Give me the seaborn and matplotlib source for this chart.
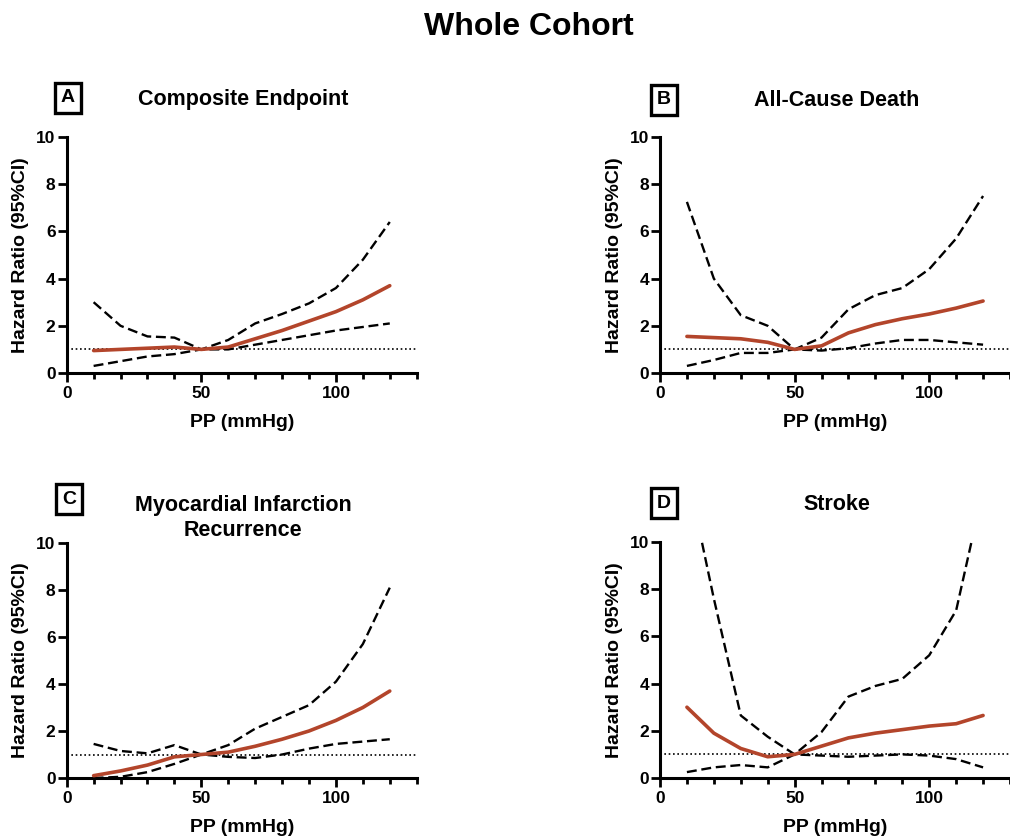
import numpy as np
import pandas as pd
import matplotlib
matplotlib.use("Agg")
import matplotlib.pyplot as plt
import seaborn as sns

# Pulse pressure grid (mmHg)
pp = [10, 20, 30, 40, 50, 60, 70, 80, 90, 100, 110, 120]

# Panel A: composite endpoint
a_hr    = [0.95, 1.00, 1.05, 1.10, 1.00, 1.10, 1.45, 1.80, 2.20, 2.60, 3.10, 3.70]
a_upper = [3.00, 2.00, 1.55, 1.50, 1.00, 1.40, 2.10, 2.50, 2.95, 3.60, 4.80, 6.40]
a_lower = [0.30, 0.50, 0.70, 0.80, 1.00, 1.00, 1.20, 1.40, 1.60, 1.80, 1.95, 2.10]

# Panel B: all-cause death
b_hr    = [1.55, 1.50, 1.45, 1.30, 1.00, 1.15, 1.70, 2.05, 2.30, 2.50, 2.75, 3.05]
b_upper = [7.25, 4.00, 2.45, 2.00, 1.00, 1.50, 2.70, 3.30, 3.60, 4.40, 5.70, 7.50]
b_lower = [0.30, 0.55, 0.85, 0.85, 1.00, 0.95, 1.05, 1.25, 1.40, 1.40, 1.30, 1.20]

# Panel C: myocardial infarction recurrence
c_hr    = [0.10, 0.30, 0.55, 0.90, 1.00, 1.10, 1.35, 1.65, 2.00, 2.45, 3.00, 3.70]
c_upper = [1.45, 1.15, 1.05, 1.40, 1.00, 1.40, 2.10, 2.60, 3.10, 4.10, 5.70, 8.10]
c_lower = [0.00, 0.05, 0.25, 0.60, 1.00, 0.90, 0.85, 1.00, 1.25, 1.45, 1.55, 1.65]

# Panel D: stroke
d_hr    = [3.00, 1.90, 1.25, 0.90, 1.00, 1.35, 1.70, 1.90, 2.05, 2.20, 2.30, 2.65]
d_upper = [13.0, 7.60, 2.65, 1.75, 1.00, 1.95, 3.45, 3.90, 4.20, 5.20, 7.10, 12.2]
d_lower = [0.25, 0.45, 0.55, 0.45, 1.00, 0.95, 0.90, 0.95, 1.00, 0.95, 0.80, 0.45]

panel_letters = ["A", "B", "C", "D"]
panel_titles = ["Composite Endpoint", "All-Cause Death",
                "Myocardial Infarction\nRecurrence", "Stroke"]
suptitle = "Whole Cohort"
xlabel = "PP (mmHg)"
ylabel = "Hazard Ratio (95%CI)"

sns.set_style("ticks")
plt.rcParams["font.family"] = ["Liberation Sans", "DejaVu Sans"]
plt.rcParams["font.weight"] = "bold"
plt.rcParams["text.color"] = "black"
plt.rcParams["axes.labelcolor"] = "black"
plt.rcParams["xtick.color"] = "black"
plt.rcParams["ytick.color"] = "black"
plt.rcParams["xtick.labelcolor"] = "black"
plt.rcParams["ytick.labelcolor"] = "black"

W, H = 1010, 836
fig = plt.figure(figsize=(W / 100, H / 100), dpi=100)

# axes boxes in pixel units: left, top, width, height
boxes = [(66.7, 137, 350, 236), (660, 137, 350, 236),
         (66.7, 543, 350, 235), (660, 542, 350, 236)]
title_pos = [(243, 100), (837, 100), (243, 518), (837, 505)]
letter_pos = [(68, 98), (664, 100), (69, 499), (664, 503)]

series = [(a_hr, a_upper, a_lower), (b_hr, b_upper, b_lower),
          (c_hr, c_upper, c_lower), (d_hr, d_upper, d_lower)]

red = "#B3452B"

for i, (hr, up, lo) in enumerate(series):
    l, t, w, h = boxes[i]
    ax = fig.add_axes([l / W, 1 - (t + h) / H, w / W, h / H])
    df = pd.DataFrame({"PP": pp, "HR": hr, "Upper": up, "Lower": lo})

    ax.axhline(1, color="black", lw=1.2, linestyle=(0, (1, 1.6)), zorder=1)
    sns.lineplot(data=df, x="PP", y="Upper", ax=ax, color="black", lw=1.7,
                 linestyle=(0, (4.2, 2)), zorder=2)
    sns.lineplot(data=df, x="PP", y="Lower", ax=ax, color="black", lw=1.7,
                 linestyle=(0, (4.2, 2)), zorder=2)
    sns.lineplot(data=df, x="PP", y="HR", ax=ax, color=red, lw=2.6, zorder=3)

    ax.set_xlim(0, 130)
    ax.set_ylim(0, 10)
    ax.set_xticks([0, 50, 100])
    ax.set_xticks(np.arange(0, 131, 10), minor=True)
    ax.set_yticks([0, 2, 4, 6, 8, 10])
    sns.despine(ax=ax)
    for s in ("left", "bottom"):
        ax.spines[s].set_linewidth(2.2)
        ax.spines[s].set_color("black")
    ax.tick_params(axis="both", which="major", direction="out", length=6.5,
                   width=2.0, color="black", labelsize=12.5)
    ax.tick_params(axis="x", which="minor", direction="out", length=4.5,
                   width=2.0, color="black")
    ax.tick_params(axis="y", pad=1.5)
    ax.tick_params(axis="x", pad=3)
    for lab in ax.get_xticklabels() + ax.get_yticklabels():
        lab.set_fontweight("bold")
    ax.set_xlabel(xlabel, fontsize=14, fontweight="bold", labelpad=9)
    ax.set_ylabel(ylabel, fontsize=14, fontweight="bold", labelpad=5)

    tx, ty = title_pos[i]
    fig.text(tx / W, 1 - ty / H, panel_titles[i], ha="center", va="center",
             fontsize=15.5, fontweight="bold", linespacing=1.25)
    lx, ly = letter_pos[i]
    fig.text(lx / W, 1 - ly / H, panel_letters[i], ha="center", va="center",
             fontsize=14, fontweight="bold",
             bbox=dict(boxstyle="square,pad=0.32", fc="white", ec="black", lw=2.4))

fig.text(529 / W, 1 - 27 / H, suptitle, ha="center", va="center",
         fontsize=23, fontweight="bold")

fig.savefig("out.png", dpi=100)
